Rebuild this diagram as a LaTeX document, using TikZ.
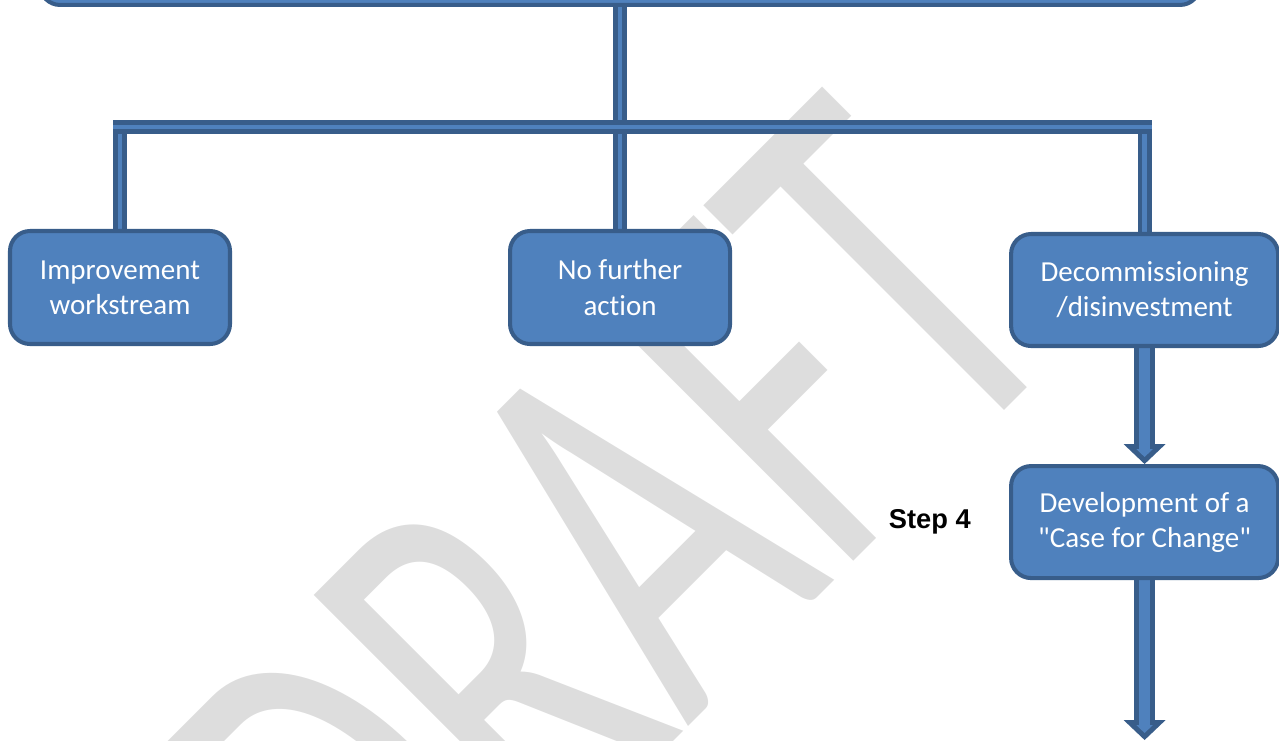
\documentclass[tikz,border=0pt]{standalone}
\usepackage{fontspec}
\setmainfont{Carlito}[Ligatures={NoCommon}]
\newfontfamily\arialfont{Liberation Sans}
\usetikzlibrary{positioning, arrows.meta, backgrounds, calc}
\definecolor{boxfill}{HTML}{4F81BD}
\definecolor{boxline}{HTML}{385D8A}
\definecolor{draftgray}{HTML}{DDDDDD}

\begin{document}
\begin{tikzpicture}[
    node distance=5.52cm,
    box/.style={rectangle, rounded corners=0.4cm, draw=boxline, line width=2.3pt, fill=boxfill, text=white, align=center, minimum width=4.4cm, minimum height=2.26cm, font=\fontsize{16.5}{20}\selectfont},
    widebox/.style={box, minimum width=5.34cm, minimum height=2.24cm},
    link/.style={draw=boxline, line width=2.6pt, double=boxfill, double distance=2.7pt},
    blockout/.style={draw=boxline, line width=11.9pt, -{Triangle[width=23.8pt, length=11.3pt, line width=0pt]}},
    blockin/.style={draw=boxfill, line width=6.2pt, shorten >=4pt, -{Triangle[width=9.4pt, length=4.5pt, line width=0pt]}}
]
    \useasboundingbox (0,0) rectangle (25.58,-14.8);
    \clip (0,0) rectangle (25.58,-14.8);

    % Nodes
    \node[box] (improve) at (2.4,-5.75) {Improvement\\workstream};
    \node[box] (noaction) [right=of improve] {No further\\action};
    \node[widebox] (decom) [right=5.54cm of noaction, yshift=-0.05cm] {Decommissioning\\/disinvestment};
    \node[widebox] (devel) [below=2.32cm of decom] {Development of a\\\textquotedbl Case for Change\textquotedbl};
    \node[box, minimum width=23.2cm, minimum height=1.6cm] (review) [above=4.44cm of noaction] {};

    \node[font=\arialfont\bfseries\fontsize{15.5}{18}\selectfont, inner sep=0pt] (steplabel) [left=0.76cm of devel] {Step 4};

    \coordinate (bus) at (0,-2.54);
    \coordinate (floor) at (0,-14.8);

    \begin{scope}[on background layer]
        \clip (0,0) rectangle (25.58,-14.8);
        % Watermark
        \node[font=\fontsize{317}{317}\selectfont, text=draftgray, rotate=45, xscale=0.65, anchor=base, inner sep=0pt] (draftmark) at (14.7,-13.6) {DRAFT};

        % Links
        \draw[link] (review) -- (noaction);
        \draw[link] (improve |- bus) -- (improve);
        \draw[link] (decom |- bus) -- (decom);
        \draw[link] ($(improve |- bus)+(-0.14,0)$) -- ($(decom |- bus)+(0.14,0)$);

        % Block arrows
        \draw[blockout] (decom) -- (devel);
        \draw[blockin] (decom) -- (devel);
        \draw[blockout] (devel) -- (devel.south |- floor);
        \draw[blockin] (devel) -- (devel.south |- floor);
    \end{scope}
\end{tikzpicture}
\end{document}
